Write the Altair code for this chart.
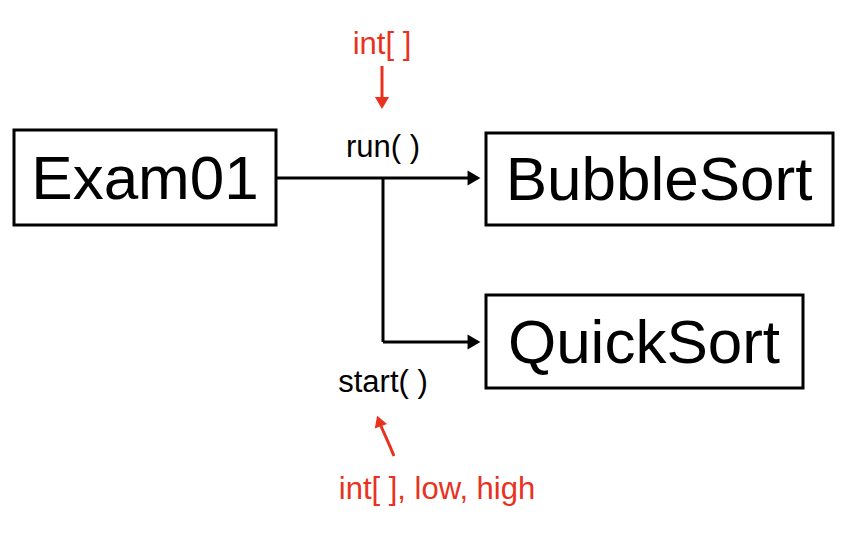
import altair as alt
import pandas as pd

# pixel coordinates of the diagram (page coords, y downwards)
box_names = ["Exam01", "BubbleSort", "QuickSort"]
box_x1 = [14, 486, 486]
box_x2 = [276, 833, 803]
box_y1 = [130, 133, 295]
box_y2 = [225, 225, 388]
box_tx = [145, 659, 644]
box_ty = [180, 181, 344]

line_x1 = [276, 383, 383]
line_x2 = [472, 383, 472]
line_y1 = [178, 178, 342]
line_y2 = [178, 342, 342]

labels = ["run(  )", "start(  )", "int[ ]", "int[ ], low, high"]
label_x = [383, 383, 382, 437]
label_y = [148, 383, 45, 490]
label_color = ["black", "black", "#e8321e", "#e8321e"]

curve_x = [394, 389, 384, 381]
curve_y = [456, 444, 433, 426]

X = alt.Scale(domain=[8, 852])
Y = alt.Scale(domain=[531, 8])
ax = dict(axis=None)

boxes = pd.DataFrame({"name": box_names, "x1": box_x1, "x2": box_x2,
                      "y1": box_y1, "y2": box_y2, "tx": box_tx, "ty": box_ty})
lines = pd.DataFrame({"x1": line_x1, "x2": line_x2, "y1": line_y1, "y2": line_y2})
texts = pd.DataFrame({"t": labels, "x": label_x, "y": label_y, "c": label_color})
curve = pd.DataFrame({"x": curve_x, "y": curve_y, "o": range(len(curve_x))})
heads = pd.DataFrame({"x": [474, 474], "y": [178, 342]})
red_down = pd.DataFrame({"x1": [382], "y1": [66], "y2": [100]})

rects = alt.Chart(boxes).mark_rect(fill="white", stroke="black", strokeWidth=3).encode(
    x=alt.X("x1:Q", scale=X, **ax), x2="x2:Q",
    y=alt.Y("y1:Q", scale=Y, **ax), y2="y2:Q")
box_text = alt.Chart(boxes).mark_text(font="Liberation Sans", fontSize=62).encode(
    x=alt.X("tx:Q", scale=X, **ax), y=alt.Y("ty:Q", scale=Y, **ax), text="name:N")
rules = alt.Chart(lines).mark_rule(color="black", strokeWidth=3).encode(
    x=alt.X("x1:Q", scale=X, **ax), x2="x2:Q",
    y=alt.Y("y1:Q", scale=Y, **ax), y2="y2:Q")
arrows = alt.Chart(heads).mark_point(shape="triangle-right", filled=True, color="black",
                                     size=220, opacity=1).encode(
    x=alt.X("x:Q", scale=X, **ax), y=alt.Y("y:Q", scale=Y, **ax))
red_rule = alt.Chart(red_down).mark_rule(color="#e8321e", strokeWidth=3).encode(
    x=alt.X("x1:Q", scale=X, **ax), y=alt.Y("y1:Q", scale=Y, **ax), y2="y2:Q")
red_head = alt.Chart(pd.DataFrame({"x": [382], "y": [103]})).mark_point(
    shape="triangle-down", filled=True, color="#e8321e", size=200, opacity=1).encode(
    x=alt.X("x:Q", scale=X, **ax), y=alt.Y("y:Q", scale=Y, **ax))
red_curve = alt.Chart(curve).mark_line(color="#e8321e", strokeWidth=3, interpolate="basis").encode(
    x=alt.X("x:Q", scale=X, **ax), y=alt.Y("y:Q", scale=Y, **ax), order="o:Q")
red_curve_head = alt.Chart(pd.DataFrame({"x": [379], "y": [421]})).mark_point(
    shape="triangle-up", filled=True, color="#e8321e", size=170, opacity=1, angle=340).encode(
    x=alt.X("x:Q", scale=X, **ax), y=alt.Y("y:Q", scale=Y, **ax))
label_text = alt.Chart(texts).mark_text(font="Liberation Sans", fontSize=31).encode(
    x=alt.X("x:Q", scale=X, **ax), y=alt.Y("y:Q", scale=Y, **ax), text="t:N",
    color=alt.Color("c:N", scale=None))

chart = (rules + arrows + rects + box_text + red_rule + red_head + red_curve
         + red_curve_head + label_text).properties(
    width=844, height=523, padding=0
).configure_view(stroke=None)

chart.save("out.html", embed_options={"renderer": "svg", "actions": False})
